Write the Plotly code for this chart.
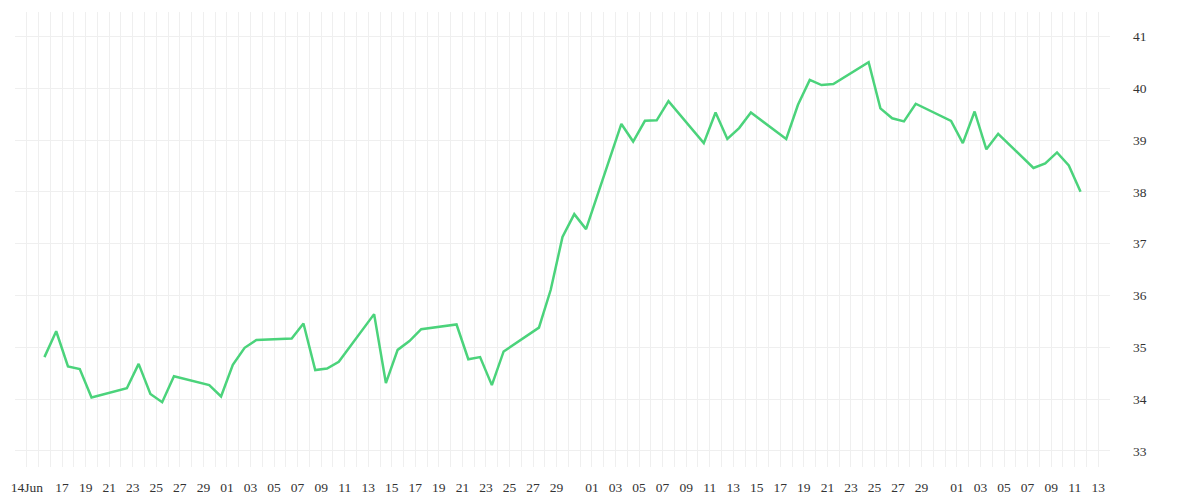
import plotly.graph_objects as go
import pandas as pd

dates = [
    "2020-06-15", "2020-06-16", "2020-06-17", "2020-06-18", "2020-06-19",
    "2020-06-22", "2020-06-23", "2020-06-24", "2020-06-25", "2020-06-26",
    "2020-06-29", "2020-06-30", "2020-07-01", "2020-07-02", "2020-07-03",
    "2020-07-06", "2020-07-07", "2020-07-08", "2020-07-09", "2020-07-10",
    "2020-07-13", "2020-07-14", "2020-07-15", "2020-07-16", "2020-07-17",
    "2020-07-20", "2020-07-21", "2020-07-22", "2020-07-23", "2020-07-24",
    "2020-07-27", "2020-07-28", "2020-07-29", "2020-07-30", "2020-07-31",
    "2020-08-03", "2020-08-04", "2020-08-05", "2020-08-06", "2020-08-07",
    "2020-08-10", "2020-08-11", "2020-08-12", "2020-08-13", "2020-08-14",
    "2020-08-17", "2020-08-18", "2020-08-19", "2020-08-20", "2020-08-21",
    "2020-08-24", "2020-08-25", "2020-08-26", "2020-08-27", "2020-08-28",
    "2020-08-31", "2020-09-01", "2020-09-02", "2020-09-03", "2020-09-04",
    "2020-09-07", "2020-09-08", "2020-09-09", "2020-09-10", "2020-09-11",
]
values = [
    34.81, 35.31, 34.63, 34.58, 34.03,
    34.21, 34.68, 34.10, 33.94, 34.44,
    34.27, 34.05, 34.66, 34.99, 35.14,
    35.17, 35.46, 34.56, 34.59, 34.72,
    35.64, 34.31, 34.95, 35.12, 35.35,
    35.44, 34.77, 34.81, 34.27, 34.92,
    35.38, 36.11, 37.13, 37.57, 37.28,
    39.31, 38.97, 39.37, 39.38, 39.75,
    38.94, 39.53, 39.02, 39.23, 39.53,
    39.02, 39.68, 40.16, 40.06, 40.08,
    40.50, 39.61, 39.42, 39.36, 39.70,
    39.37, 38.94, 39.55, 38.82, 39.12,
    38.46, 38.55, 38.76, 38.51, 38.00,
]

tick_dates = [
    "2020-06-14", "2020-06-17", "2020-06-19", "2020-06-21", "2020-06-23",
    "2020-06-25", "2020-06-27", "2020-06-29", "2020-07-01", "2020-07-03",
    "2020-07-05", "2020-07-07", "2020-07-09", "2020-07-11", "2020-07-13",
    "2020-07-15", "2020-07-17", "2020-07-19", "2020-07-21", "2020-07-23",
    "2020-07-25", "2020-07-27", "2020-07-29", "2020-08-01", "2020-08-03",
    "2020-08-05", "2020-08-07", "2020-08-09", "2020-08-11", "2020-08-13",
    "2020-08-15", "2020-08-17", "2020-08-19", "2020-08-21", "2020-08-23",
    "2020-08-25", "2020-08-27", "2020-08-29", "2020-09-01", "2020-09-03",
    "2020-09-05", "2020-09-07", "2020-09-09", "2020-09-11", "2020-09-13",
]
tick_labels = ["14Jun"] + [d[-2:] for d in tick_dates[1:]]

y_ticks = [33, 34, 35, 36, 37, 38, 39, 40, 41]

x_pts = pd.to_datetime(dates) + pd.Timedelta(hours=12)

fig = go.Figure()
fig.add_trace(go.Scatter(
    x=x_pts, y=values, mode="lines",
    line=dict(color="#4bd37b", width=2.5),
    hoverinfo="skip",
))

font = dict(family="Liberation Serif", size=13.5, color="#333333")

fig.update_layout(
    width=1200, height=500,
    margin=dict(l=7, r=98, t=4, b=41, autoexpand=False),
    paper_bgcolor="white", plot_bgcolor="white",
    showlegend=False,
    font=font,
    xaxis=dict(
        type="date",
        range=["2020-06-13", "2020-09-14"],
        tickmode="array",
        tickvals=tick_dates,
        ticktext=tick_labels,
        showgrid=False,
        minor=dict(dtick=86400000, tick0="2020-06-13", showgrid=True,
                   gridcolor="#efefef", gridwidth=1),
        zeroline=False, showline=False, ticks="",
        tickfont=font,
        ticklabelstandoff=10,
    ),
    yaxis=dict(
        side="right",
        range=[32.69, 41.47],
        tickmode="array",
        tickvals=y_ticks,
        ticktext=[str(v) for v in y_ticks],
        showgrid=True, gridcolor="#efefef", gridwidth=1,
        zeroline=False, showline=False, ticks="",
        tickfont=font,
        ticklabelstandoff=22,
    ),
)

fig.write_html("out.html")
